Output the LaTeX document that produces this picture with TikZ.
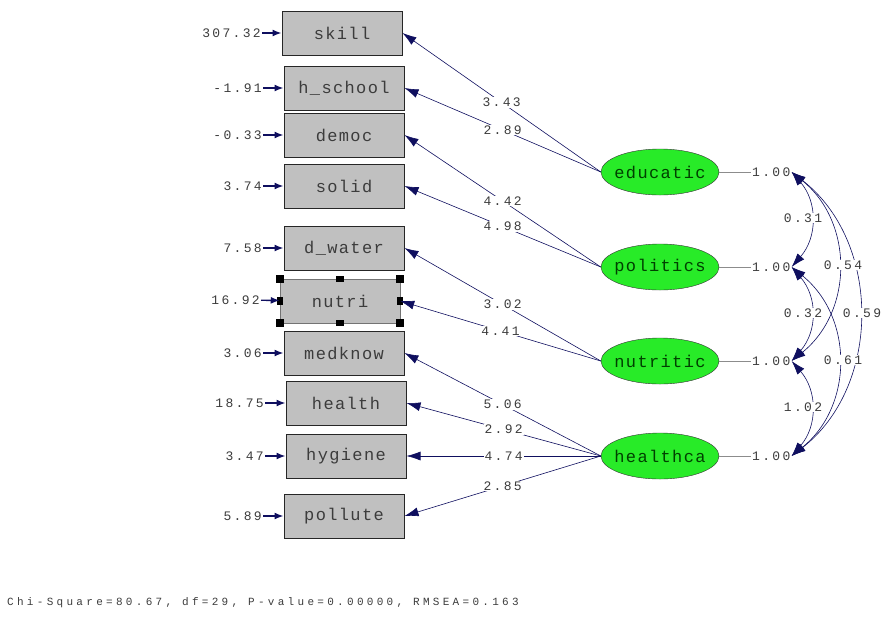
\documentclass[tikz,border=0pt]{standalone}
\usepackage{fontspec}
\newfontfamily\boxfont[LetterSpace=8]{Liberation Mono}
\newfontfamily\numfont[LetterSpace=18]{Liberation Mono}
\newfontfamily\fitfont[LetterSpace=30]{Liberation Mono}
\usetikzlibrary{shapes,arrows.meta}
\definecolor{lisgrey}{RGB}{192,192,192}
\definecolor{lisgreen}{RGB}{40,235,40}
\definecolor{lisnavy}{RGB}{15,15,95}
\definecolor{listext}{RGB}{60,60,60}
\tikzstyle{block} = [rectangle, draw=black!85, fill=lisgrey, line width=1pt,
	minimum width=120pt, minimum height=44pt, text=listext,
	font=\boxfont\fontsize{17}{17}\selectfont]
\tikzstyle{cloud} = [draw=black!80, ellipse, fill=lisgreen, inner sep=0pt,
	inner xsep=-5pt, minimum width=118pt, minimum height=46pt,
	text=green!25!black, font=\boxfont\fontsize{17}{17}\selectfont]
\tikzstyle{line} = [draw, lisnavy, line width=0.6pt, -{Latex[length=14pt,width=9pt]}]
\tikzstyle{errline} = [line, line width=1.4pt, -{Latex[length=9pt,width=7pt]}]
\tikzstyle{cov} = [draw, lisnavy, line width=0.6pt,
	{Latex[length=14pt,width=9pt]}-{Latex[length=14pt,width=9pt]}]
\tikzstyle{coef} = [fill=white, inner sep=1pt, text=listext,
	font=\numfont\fontsize{13}{13}\selectfont]
\tikzstyle{err} = [coef, anchor=east, fill=none]

\begin{document}
\begin{tikzpicture}[x=1pt, y=-1pt]
	\useasboundingbox (0,0) rectangle (883,619);
	% Place nodes
	\node [block] (skill) at (342,33) {skill};
	\node [block] (hschool) at (344,88) {h\_school};
	\node [block] (democ) at (344,135) {democ};
	\node [block] (solid) at (344,186) {solid};
	\node [block] (dwater) at (344,248) {d\_water};
	\node [block, draw=black!55, line width=0.5pt] (nutri) at (340,301) {nutri};
	\node [block] (medknow) at (344,353) {medknow};
	\node [block] (health) at (346,403) {health};
	\node [block] (hygiene) at (346,456) {hygiene};
	\node [block] (pollute) at (344,516) {pollute};
	\node [cloud] (educ) at (660,172) {educatic};
	\node [cloud] (polit) at (660,267) {politics};
	\node [cloud] (nutr) at (660,361) {nutritic};
	\node [cloud] (healthca) at (660,456) {healthca};
	% Error variances
	\node [err] (eskill) at (262,33) {307.32};
	\node [err] (ehschool) at (263,88) {-1.91};
	\node [err] (edemoc) at (263,135) {-0.33};
	\node [err] (esolid) at (263,186) {3.74};
	\node [err] (edwater) at (263,248) {7.58};
	\node [err] (enutri) at (261,300) {16.92};
	\node [err] (emedknow) at (263,353) {3.06};
	\node [err] (ehealth) at (265,403) {18.75};
	\node [err] (ehygiene) at (265,456) {3.47};
	\node [err] (epollute) at (263,516) {5.89};
	% Variances of the factors
	\node [err, anchor=west] (veduc) at (751,172) {1.00};
	\node [err, anchor=west] (vpolit) at (751,267) {1.00};
	\node [err, anchor=west] (vnutr) at (751,361) {1.00};
	\node [err, anchor=west] (vhealthca) at (751,456) {1.00};
	\node [err, anchor=west, font=\fitfont\fontsize{11}{11}\selectfont] (fit) at (6,603)
		{Chi-Square=80.67, df=29, P-value=0.00000, RMSEA=0.163};
	% Selection handles
	\foreach \a in {north west, north east, south west, south east}
		\fill (nutri.\a) ++(-4,-4) rectangle ++(8,8);
	\fill (nutri.north) ++(-4,-3) rectangle ++(8,6);
	\fill (nutri.south) ++(-4,-3) rectangle ++(8,6);
	\fill (nutri.west) ++(-3,-4) rectangle ++(6,8);
	\fill (nutri.east) ++(-3,-4) rectangle ++(6,8);
	% Draw edges
	\path [errline] (eskill) -- (skill);
	\path [errline] (ehschool) -- (hschool);
	\path [errline] (edemoc) -- (democ);
	\path [errline] (esolid) -- (solid);
	\path [errline] (edwater) -- (dwater);
	\path [errline] (enutri) -- (nutri);
	\path [errline] (emedknow) -- (medknow);
	\path [errline] (ehealth) -- (health);
	\path [errline] (ehygiene) -- (hygiene);
	\path [errline] (epollute) -- (pollute);
	\path [line] (educ.west) -- node [coef] {3.43} (skill.east);
	\path [line] (educ.west) -- node [coef] {2.89} (hschool.east);
	\path [line] (polit.west) -- node [coef] {4.42} (democ.east);
	\path [line] (polit.west) -- node [coef] {4.98} (solid.east);
	\path [line] (nutr.west) -- node [coef] {3.02} (dwater.east);
	\path [line] (nutr.west) -- node [coef] {4.41} (nutri.east);
	\path [line] (healthca.west) -- node [coef] {5.06} (medknow.east);
	\path [line] (healthca.west) -- node [coef] {2.92} (health.east);
	\path [line] (healthca.west) -- node [coef] {4.74} (hygiene.east);
	\path [line] (healthca.west) -- node [coef] {2.85} (pollute.east);
	\draw [black!45] (educ) -- (veduc);
	\draw [black!45] (polit) -- (vpolit);
	\draw [black!45] (nutr) -- (vnutr);
	\draw [black!45] (healthca) -- (vhealthca);
	% Covariances
	\path [cov] (veduc.east) .. controls +(90,70) and +(90,-70) .. (vhealthca.east);
	\path [cov] (veduc.east) .. controls +(62,50) and +(62,-50) .. (vnutr.east);
	\path [cov] (vpolit.east) .. controls +(62,50) and +(62,-50) .. (vhealthca.east);
	\path [cov] (veduc.east) .. controls +(26,30) and +(26,-30) .. (vpolit.east);
	\path [cov] (vpolit.east) .. controls +(26,30) and +(26,-30) .. (vnutr.east);
	\path [cov] (vnutr.east) .. controls +(26,30) and +(26,-30) .. (vhealthca.east);
	\node [coef] (c12) at (803,218) {0.31};
	\node [coef] (c23) at (803,313) {0.32};
	\node [coef] (c34) at (803,407) {1.02};
	\node [coef] (c13) at (843,265) {0.54};
	\node [coef] (c24) at (843,360) {0.61};
	\node [coef] (c14) at (862,313) {0.59};
\end{tikzpicture}
\end{document}
